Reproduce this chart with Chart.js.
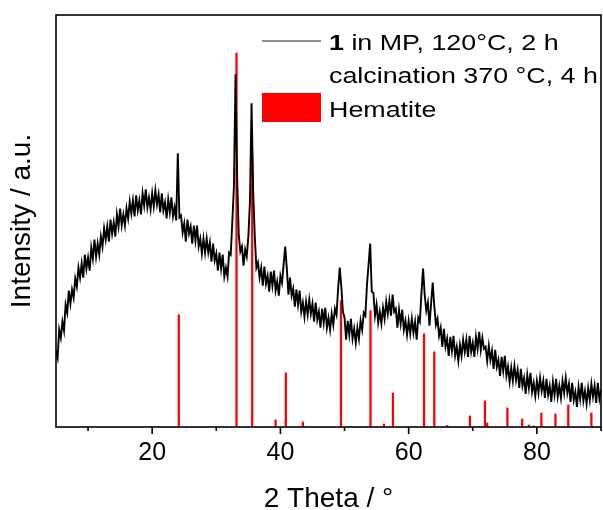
<!DOCTYPE html>
<html>
<head>
<meta charset="utf-8">
<title>XRD pattern</title>
<script src="https://cdn.jsdelivr.net/npm/chart.js@4.4.1/dist/chart.umd.min.js"></script>
<style>
    html, body { margin: 0; padding: 0; background: #fff; overflow: hidden; }
    #wrap { width: 603px; height: 510px; overflow: hidden; }
    canvas { display: block; }
</style>
</head>
<body>
<div id="wrap"><canvas id="xrdChart" width="612" height="514"></canvas></div>
<script>
// measured pattern, 5 - 90 deg 2theta, 0.25 deg step
const scanStart = 5;
const scanStep = 0.25;
const intensity = [
    76, 69, 97, 89,   105, 96, 122, 114,  136, 123, 137, 129,  148, 140, 159, 149,  163, 149, 172, 158,
    169, 156, 179, 168, 187, 170, 183, 172, 190, 180, 198, 187, 200, 185, 207, 193, 204, 190, 212, 200,
    218, 201, 212, 201, 218, 208, 225, 213, 226, 210, 231, 216, 226, 212, 233, 221, 237, 219, 229, 217,
    233, 220, 236, 222, 232, 214, 233, 216, 224, 208, 227, 214, 229, 210, 219, 206, 273, 209, 211, 194,
    203, 185, 207, 193, 200, 183, 201, 186, 201, 180, 188, 173, 188, 174, 188, 174, 184, 165, 183, 166,
    173, 156, 174, 158, 172, 150, 159, 150, 174, 172, 205, 240, 352, 250, 192, 175, 180, 161, 177, 170,
    190, 225, 323, 236, 191, 159, 164, 149, 159, 141, 160, 143, 151, 135, 155, 141, 156, 136, 145, 131,
    151, 144, 162, 180, 158, 132, 149, 131, 138, 120, 137, 122, 136, 115, 124, 110, 125, 112, 127, 113,
    123, 105, 124, 107, 115, 99, 118, 104,  119, 99, 109, 97,   113, 102, 118, 112, 138, 159, 140, 115,
    109, 87, 106, 92,   108, 88, 98, 84,    99, 88, 106, 97,    114, 111, 142, 162, 183, 135, 134, 111,
    122, 104, 115, 103, 119, 108, 125, 113, 126, 111, 132, 115, 118, 99, 117, 103,  117, 97, 106, 92,
    106, 93, 108, 94,   105, 87, 109, 105,  134, 158, 132, 116, 124, 101, 123, 144, 121, 102, 108, 91,
    99, 80, 98, 80,     88, 71, 90, 76,     91, 71, 80, 66,     82, 71, 87, 75,     87, 70, 91, 75,
    84, 70, 90, 78,     95, 77, 89, 78,     80, 66, 81, 67,     76, 58, 77, 60,     67, 51, 70, 56,
    71, 51, 60, 45,     59, 46, 61, 47,     57, 39, 58, 41,     49, 33, 52, 39,     54, 35, 44, 31,
    46, 34, 49, 36,     46, 29, 48, 32,     41, 25, 45, 32,     48, 30, 41, 29,     46, 34, 49, 34,
    43, 25, 44, 27,     35, 20, 40, 28,     44, 26, 36, 23,     39, 27, 43, 30,     41, 24, 44, 28,
    37
];

// hematite reference lines
const hematitePos = [24.15, 33.15, 35.6, 39.25, 40.85, 43.5, 49.45, 54.05, 56.15, 57.55, 62.4, 64.0,
    66.0, 69.55, 71.9, 72.25, 75.4, 77.7, 78.75, 79.5, 80.7, 82.9, 84.9, 88.5];
const hematiteInt = [112, 373, 271, 7, 54, 5, 126, 116, 3, 34, 93, 75,
    1.5, 11, 26, 4, 19, 8, 2, 1, 14, 13, 22, 14];

const xMajorTicks = [20, 40, 60, 80];
const xMinorTicks = [10, 30, 50, 70, 90];

const FONT = "'Liberation Sans', Arial, sans-serif";

const tracePoints = intensity.map((v, i) => ({ x: scanStart + i * scanStep, y: v }));
const stickPoints = hematitePos.map((p, i) => ({ x: p, y: hematiteInt[i] }));

// legend text in the original is wider than Arial
function wideText(ctx, text, x, y, font) {
    ctx.save();
    ctx.font = font;
    ctx.translate(x, y);
    ctx.scale(1.22, 1);
    ctx.fillText(text, 0, 0);
    const w = ctx.measureText(text).width * 1.22;
    ctx.restore();
    return w;
}

const frameAndTicks = {
    id: 'frameAndTicks',
    afterDatasetsDraw(chart) {
        const { ctx, chartArea: a, scales: { x } } = chart;
        ctx.save();
        ctx.strokeStyle = '#000';
        ctx.lineWidth = 1.6;
        ctx.strokeRect(a.left, a.top, a.right - a.left, a.bottom - a.top);
        ctx.beginPath();
        xMajorTicks.forEach(v => {
            const px = x.getPixelForValue(v);
            ctx.moveTo(px, a.bottom);
            ctx.lineTo(px, a.bottom + 7);
        });
        xMinorTicks.forEach(v => {
            const px = x.getPixelForValue(v);
            ctx.moveTo(px, a.bottom);
            ctx.lineTo(px, a.bottom + 4);
        });
        ctx.stroke();
        ctx.restore();
    }
};

const legendBox = {
    id: 'legendBox',
    afterDraw(chart) {
        const ctx = chart.ctx;
        ctx.save();
        ctx.strokeStyle = '#222';
        ctx.lineWidth = 1.2;
        ctx.beginPath();
        ctx.moveTo(262, 41);
        ctx.lineTo(321, 41);
        ctx.stroke();
        ctx.fillStyle = '#ff0000';
        ctx.fillRect(262, 93, 59, 29);

        ctx.fillStyle = '#000';
        ctx.textBaseline = 'alphabetic';
        ctx.textAlign = 'left';
        const w = wideText(ctx, '1', 329, 50, 'bold 22px ' + FONT);
        wideText(ctx, ' in MP, 120°C, 2 h', 329 + w, 50, '22px ' + FONT);
        wideText(ctx, 'calcination 370 °C, 4 h', 329, 83, '22px ' + FONT);
        wideText(ctx, 'Hematite', 329, 117, '22px ' + FONT);
        ctx.restore();
    }
};

const ctx = document.getElementById('xrdChart').getContext('2d');
new Chart(ctx, {
    type: 'line',
    data: {
        datasets: [
            {
                type: 'line',
                label: '1 in MP, 120°C, 2 h, calcination 370 °C, 4 h',
                data: tracePoints,
                borderColor: '#000',
                borderWidth: 1.9,
                pointRadius: 0,
                tension: 0,
                order: 0
            },
            {
                type: 'bar',
                label: 'Hematite',
                data: stickPoints,
                backgroundColor: '#ff0000',
                borderWidth: 0,
                barThickness: 1.6,
                order: 1
            }
        ]
    },
    options: {
        responsive: false,
        animation: false,
        devicePixelRatio: 1,
        layout: { padding: { left: 8.5, top: 15, right: 6, bottom: 0 } },
        plugins: {
            legend: { display: false },
            tooltip: { enabled: false }
        },
        scales: {
            x: {
                type: 'linear',
                min: 5,
                max: 90,
                offset: false,
                grid: { display: false, drawTicks: false },
                border: { display: false },
                afterBuildTicks: scale => {
                    scale.ticks = xMinorTicks.concat(xMajorTicks).sort((a, b) => a - b).map(v => ({ value: v }));
                },
                ticks: {
                    autoSkip: false,
                    maxRotation: 0,
                    padding: 11,
                    color: '#000',
                    font: { family: FONT, size: 25 },
                    callback: v => xMajorTicks.includes(v) ? String(v) : ''
                },
                title: {
                    display: true,
                    text: '2 Theta / °',
                    color: '#000',
                    font: { family: FONT, size: 28, lineHeight: 1 },
                    padding: { top: 6, bottom: 1 }
                }
            },
            y: {
                min: 0,
                max: 411,
                grid: { display: false, drawTicks: false },
                border: { display: false },
                ticks: { display: false },
                title: {
                    display: true,
                    text: 'Intensity / a.u.',
                    color: '#000',
                    font: { family: FONT, size: 28, lineHeight: 1 },
                    padding: { top: 0, bottom: 19.5 }
                }
            }
        }
    },
    plugins: [frameAndTicks, legendBox]
});
</script>
</body>
</html>
